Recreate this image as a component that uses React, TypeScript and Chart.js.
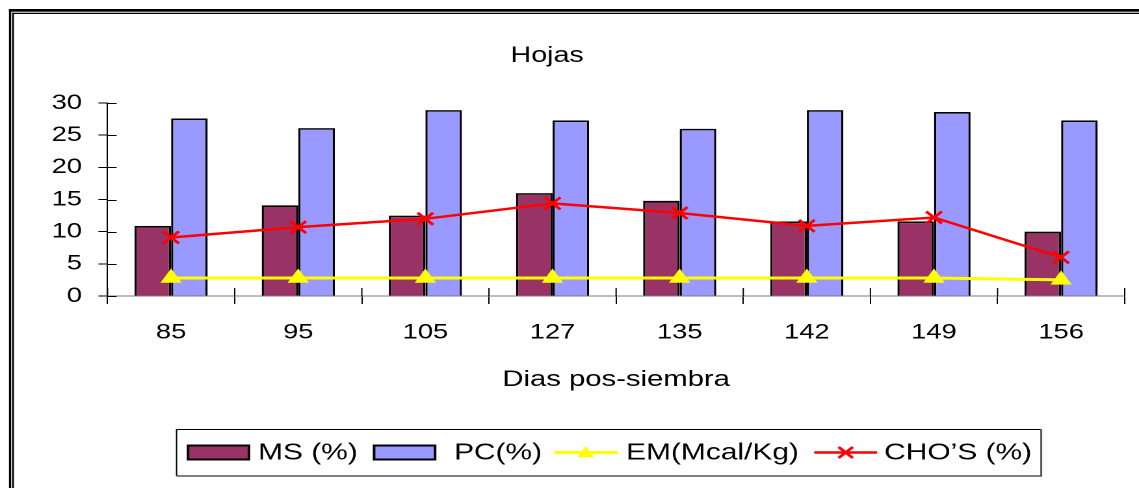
import { useEffect, useRef } from 'react';
import { Chart, registerables } from 'chart.js';

Chart.register(...registerables);

// Days after sowing and the measured values for leaves
const days = ['85', '95', '105', '127', '135', '142', '149', '156'];
const msPct = [10.9, 14.1, 12.5, 16.0, 14.8, 11.6, 11.6, 10.0];
const pcPct = [27.6, 26.1, 28.9, 27.3, 26.0, 28.9, 28.6, 27.3];
const emMcal = [2.8, 2.8, 2.8, 2.8, 2.8, 2.8, 2.8, 2.5];
const choPct = [9.1, 10.7, 12.0, 14.4, 12.9, 10.9, 12.2, 6.0];

const yMin = 0;
const yMax = 30;
const yStep = 5;

const titleText = 'Hojas';
const xTitleText = 'Dias pos-siembra';
const seriesNames = ['MS (%)', 'PC(%)', 'EM(Mcal/Kg)', 'CHO\u2019S (%)'];

const MS_COLOR = '#993366';
const PC_COLOR = '#9999FF';
const EM_COLOR = '#FFFF00';
const CHO_COLOR = '#FF0000';

// The drawing is laid out on a narrower canvas and widened horizontally.
const OUT_W = 1139;
const OUT_H = 488;
const W = 876;
const H = 488;
const STRETCH = OUT_W / W;
const FONT = '"Liberation Sans", Arial, sans-serif';

function triangle(ctx: CanvasRenderingContext2D, cx: number, cy: number, r: number) {
  ctx.beginPath();
  ctx.moveTo(cx, cy - r);
  ctx.lineTo(cx + r * 0.866, cy + r * 0.5);
  ctx.lineTo(cx - r * 0.866, cy + r * 0.5);
  ctx.closePath();
  ctx.fill();
}

function cross(ctx: CanvasRenderingContext2D, cx: number, cy: number, d: number) {
  ctx.beginPath();
  ctx.moveTo(cx - d, cy - d);
  ctx.lineTo(cx + d, cy + d);
  ctx.moveTo(cx + d, cy - d);
  ctx.lineTo(cx - d, cy + d);
  ctx.stroke();
}

const decorations = {
  id: 'decorations',
  afterDraw(chart: any) {
    const ctx: CanvasRenderingContext2D = chart.ctx;
    const area = chart.chartArea;
    const ys = chart.scales.y;
    ctx.save();

    // double frame (top and left edges)
    ctx.fillStyle = '#000';
    ctx.fillRect(6.9, 9, 1.7, H);
    ctx.fillRect(6.9, 9, W, 2.7);
    ctx.fillRect(9.3, 12.7, 1.4, H);
    ctx.fillRect(9.3, 12.7, W, 1.3);

    // tick marks crossing into the plot area
    ctx.strokeStyle = '#000';
    ctx.lineWidth = 1;
    ctx.beginPath();
    for (let v = yMin; v <= yMax; v += yStep) {
      const py = Math.round(ys.getPixelForValue(v)) + 0.5;
      ctx.moveTo(area.left, py);
      ctx.lineTo(area.left + 7, py);
    }
    const n = days.length;
    for (let i = 0; i <= n; i++) {
      const px = area.left + (i * (area.right - area.left)) / n;
      ctx.moveTo(px, area.bottom);
      ctx.lineTo(px, area.bottom - 8);
    }
    ctx.stroke();

    // titles
    ctx.fillStyle = '#000';
    ctx.textAlign = 'center';
    ctx.textBaseline = 'middle';
    ctx.font = `22px ${FONT}`;
    ctx.fillText(titleText, 420.8, 56);
    ctx.font = `22.5px ${FONT}`;
    ctx.fillText(xTitleText, (area.left + area.right) / 2, 380);

    // legend box
    const lx = 135.8, ly = 429.5, lw = 665, lh = 46.5;
    ctx.strokeStyle = '#000';
    ctx.lineWidth = 1;
    ctx.beginPath();
    ctx.moveTo(lx, ly + lh);
    ctx.lineTo(lx, ly);
    ctx.lineTo(lx + lw, ly);
    ctx.stroke();
    ctx.strokeStyle = '#555';
    ctx.lineWidth = 1.5;
    ctx.beginPath();
    ctx.moveTo(lx + lw, ly);
    ctx.lineTo(lx + lw, ly + lh);
    ctx.lineTo(lx, ly + lh);
    ctx.stroke();

    const cy = 453;
    // bar swatches
    const swatch = (x: number, color: string) => {
      ctx.fillStyle = color;
      ctx.fillRect(x, 445.5, 46.9, 14);
      ctx.strokeStyle = '#000';
      ctx.lineWidth = 2;
      ctx.strokeRect(x, 445.5, 46.9, 14);
    };
    swatch(144.6, MS_COLOR);
    swatch(287.7, PC_COLOR);

    // line swatches
    ctx.strokeStyle = EM_COLOR;
    ctx.lineWidth = 3;
    ctx.beginPath();
    ctx.moveTo(426.2, 452.5);
    ctx.lineTo(475.4, 452.5);
    ctx.stroke();
    ctx.fillStyle = EM_COLOR;
    triangle(ctx, 450.5, 453.5, 7.5);

    ctx.strokeStyle = CHO_COLOR;
    ctx.lineWidth = 2.5;
    ctx.beginPath();
    ctx.moveTo(626.2, 452.5);
    ctx.lineTo(674.6, 452.5);
    ctx.stroke();
    cross(ctx, 650.4, 452.5, 5.5);

    ctx.fillStyle = '#000';
    ctx.textAlign = 'left';
    ctx.textBaseline = 'middle';
    ctx.font = `23px ${FONT}`;
    ctx.fillText(seriesNames[0], 198.5, cy);
    ctx.fillText(seriesNames[1], 349.2, cy);
    ctx.fillText(seriesNames[2], 481.5, cy);
    ctx.fillText(seriesNames[3], 680, cy);

    ctx.restore();
  },
};

export default function App() {
  const canvasRef = useRef<HTMLCanvasElement | null>(null);

  useEffect(() => {
    const canvas = canvasRef.current;
    if (!canvas) return;
    const chart = new Chart(canvas, {
      type: 'bar',
      data: {
        labels: days,
        datasets: [
          {
            type: 'line',
            label: seriesNames[3],
            data: choPct,
            borderColor: CHO_COLOR,
            backgroundColor: CHO_COLOR,
            borderWidth: 2.5,
            tension: 0,
            pointStyle: 'crossRot',
            pointRadius: 8.5,
            pointBorderWidth: 2.5,
            pointBorderColor: CHO_COLOR,
            order: 0,
          },
          {
            type: 'line',
            label: seriesNames[2],
            data: emMcal,
            borderColor: EM_COLOR,
            backgroundColor: EM_COLOR,
            borderWidth: 3,
            tension: 0,
            pointStyle: 'triangle',
            pointRadius: 8.5,
            pointBorderWidth: 1,
            pointBackgroundColor: EM_COLOR,
            pointBorderColor: EM_COLOR,
            order: 0,
          },
          {
            type: 'bar',
            label: seriesNames[0],
            data: msPct,
            backgroundColor: MS_COLOR,
            borderColor: '#000',
            borderWidth: 1.7,
            categoryPercentage: 0.575,
            barPercentage: 1,
            order: 1,
          },
          {
            type: 'bar',
            label: seriesNames[1],
            data: pcPct,
            backgroundColor: PC_COLOR,
            borderColor: '#000',
            borderWidth: 1.7,
            categoryPercentage: 0.575,
            barPercentage: 1,
            order: 1,
          },
        ],
      } as any,
      options: {
        responsive: false,
        animation: false,
        devicePixelRatio: 2,
        layout: { padding: { top: 103, right: 2.2, left: 0, bottom: 0 } },
        plugins: {
          legend: { display: false },
          tooltip: { enabled: false },
          title: { display: false },
        },
        scales: {
          x: {
            offset: true,
            grid: {
              offset: true,
              drawOnChartArea: false,
              drawTicks: true,
              tickLength: 8,
              color: '#000',
              lineWidth: 1,
            },
            border: { display: true, color: '#7a7a7a', width: 1 },
            ticks: {
              color: '#000',
              font: { family: FONT, size: 21 },
              padding: 16,
              maxRotation: 0,
              autoSkip: false,
            },
            afterFit: (s: any) => {
              s.height = H - 296;
            },
          },
          y: {
            min: yMin,
            max: yMax,
            grid: {
              drawOnChartArea: false,
              drawTicks: true,
              tickLength: 7,
              color: '#000',
              lineWidth: 1,
            },
            border: { display: true, color: '#000', width: 1 },
            ticks: {
              stepSize: yStep,
              color: '#000',
              font: { family: FONT, size: 21 },
              padding: 12.6,
            },
            afterFit: (s: any) => {
              s.width = 82.7;
            },
          },
        },
      } as any,
      plugins: [decorations],
    });
    return () => chart.destroy();
  }, []);

  return (
    <div
      style={{
        position: 'absolute',
        left: 0,
        top: 0,
        width: OUT_W,
        height: OUT_H,
        overflow: 'hidden',
        background: '#fff',
      }}
    >
      <canvas
        ref={canvasRef}
        width={W}
        height={H}
        style={{
          display: 'block',
          width: `${W}px`,
          height: `${H}px`,
          transform: `scaleX(${STRETCH})`,
          transformOrigin: '0 0',
        }}
      />
    </div>
  );
}
